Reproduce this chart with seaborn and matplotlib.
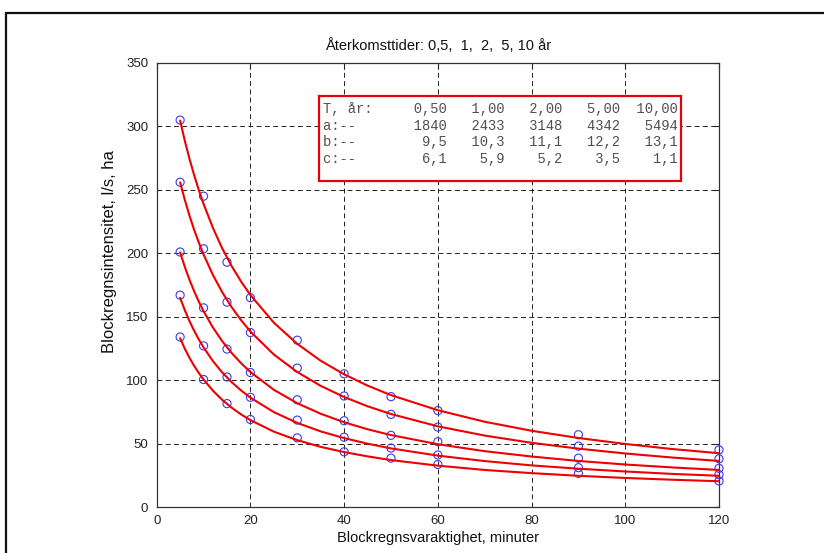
import numpy as np
import pandas as pd
import matplotlib
matplotlib.use("Agg")
import matplotlib.pyplot as plt
import seaborn as sns
from matplotlib.patches import Rectangle

# ---------------- data ----------------
return_periods = [0.5, 1, 2, 5, 10]
param_a = [1840, 2433, 3148, 4342, 5494]
param_b = [9.5, 10.3, 11.1, 12.2, 13.1]
param_c = [6.1, 5.9, 5.2, 3.5, 1.1]

# fitted curves
t_curve = [5, 6, 7, 8, 9, 10, 12, 14, 16, 18, 20, 25, 30, 35, 40, 45, 50, 60, 70, 80, 90, 100, 110, 120]
curve_T10 = [304.6, 288.7, 274.4, 261.5, 249.7, 238.9, 220.0, 203.8, 189.9, 177.8, 167.1, 145.3, 128.6,
             115.3, 104.6, 95.7, 88.2, 76.3, 67.2, 60.1, 54.4, 49.7, 45.7, 42.4]
curve_T5 = [255.9, 242.1, 229.6, 218.4, 208.3, 199.1, 182.9, 169.2, 157.5, 147.3, 138.3, 120.2, 106.4,
            95.5, 86.7, 79.4, 73.3, 63.6, 56.3, 50.6, 46.0, 42.2, 39.0, 36.3]
curve_T2 = [200.7, 189.3, 179.1, 170.0, 161.8, 154.4, 141.5, 130.6, 121.4, 113.4, 106.4, 92.4, 81.8,
            73.5, 66.8, 61.3, 56.7, 49.5, 44.0, 39.8, 36.3, 33.5, 31.2, 29.2]
curve_T1 = [164.9, 155.2, 146.5, 138.9, 132.0, 125.8, 115.0, 106.0, 98.4, 91.9, 86.2, 74.8, 66.3,
            59.6, 54.3, 49.9, 46.2, 40.5, 36.2, 32.8, 30.2, 28.0, 26.1, 24.6]
curve_T05 = [133.0, 124.8, 117.6, 111.2, 105.6, 100.5, 91.7, 84.4, 78.3, 73.0, 68.5, 59.4, 52.7,
             47.4, 43.3, 39.9, 37.0, 32.6, 29.2, 26.7, 24.6, 22.9, 21.5, 20.3]

# observed points
t_obs = [5, 10, 15, 20, 30, 40, 50, 60, 90, 120]
obs_T10 = [305, 245, 193, 165, 131.5, 105, 87, 76, 57, 45]
obs_T5 = [256, 203.5, 161.5, 137.5, 109.5, 87.5, 73, 63, 48, 38]
obs_T2 = [201, 157, 124.5, 106, 84.5, 68, 56.5, 51.5, 38.5, 30.5]
obs_T1 = [167, 127, 102.5, 86.5, 68.5, 55, 46.5, 41, 31, 25.5]
obs_T05 = [134, 100.5, 81.5, 69, 54.5, 43.5, 38.5, 33.5, 26.5, 20.5]

x_ticks = [0, 20, 40, 60, 80, 100, 120]
y_ticks = [0, 50, 100, 150, 200, 250, 300, 350]

title_text = "Återkomsttider: 0,5,  1,  2,  5, 10 år"
xlabel_text = "Blockregnsvaraktighet, minuter"
ylabel_text = "Blockregnsintensitet, l/s, ha"

# ---------------- build tables ----------------
curves = [curve_T05, curve_T1, curve_T2, curve_T5, curve_T10]
obs = [obs_T05, obs_T1, obs_T2, obs_T5, obs_T10]
df_curve = pd.concat([pd.DataFrame({"t": t_curve, "i": c, "T": str(T)})
                      for T, c in zip(return_periods, curves)], ignore_index=True)
df_obs = pd.concat([pd.DataFrame({"t": t_obs, "i": o, "T": str(T)})
                    for T, o in zip(return_periods, obs)], ignore_index=True)

# ---------------- style ----------------
sns.set_style("white")
plt.rcParams['font.family'] = ['Liberation Sans', 'DejaVu Sans']

fig = plt.figure(figsize=(8.24, 5.53), dpi=100)
fig.patch.set_facecolor("white")
ax = fig.add_axes([156.7 / 824, 1 - 507 / 553, 562.3 / 824, 444 / 553])
ax.set_facecolor("white")

marker_col = "#3a3aee"
sns.scatterplot(data=df_obs, x="t", y="i", legend=False, marker="o", s=34,
                facecolors="none", edgecolors=marker_col, linewidth=0.8, ax=ax, zorder=3)
for coll in ax.collections:
    coll.set_facecolor("none")
    coll.set_edgecolor(marker_col)
    coll.set_clip_on(False)
sns.lineplot(data=df_curve, x="t", y="i", hue="T", palette=["#ee0000"] * 5, legend=False,
             estimator=None, sort=False, linewidth=1.5, ax=ax, zorder=4)

ax.set_xlim(0, 120)
ax.set_ylim(0, 350)
ax.set_xticks(x_ticks)
ax.set_yticks(y_ticks)
ax.set_xticklabels([str(v) for v in x_ticks])
ax.set_yticklabels([str(v) for v in y_ticks])
ax.tick_params(direction="in", length=4, width=0.8, top=True, right=True,
               labelsize=9.5, colors="#222222", pad=6)
ax.grid(True, color="#222222", linestyle=(0, (5, 3.5)), linewidth=0.7)
for sp in ax.spines.values():
    sp.set_color("#333333")
    sp.set_linewidth(0.9)

ax.set_title(title_text, fontsize=10.5, pad=9, color="#111111")
ax.set_xlabel(xlabel_text, fontsize=10.5, color="#111111")
ax.set_ylabel(ylabel_text, fontsize=12, color="#111111")
ax.xaxis.set_label_coords(0.5, -0.053)
ax.yaxis.set_label_coords(-0.071, 0.575)

# parameter table box
def fmt(v, d):
    return f"{v:.{d}f}".replace(".", ",")

rows = [
    "T, år:  " + "".join(f"{fmt(v, 2):>7}" for v in return_periods),
    "a:--    " + "".join(f"{v:>7d}" for v in param_a),
    "b:--    " + "".join(f"{fmt(v, 1):>7}" for v in param_b),
    "c:--    " + "".join(f"{fmt(v, 1):>7}" for v in param_c),
]
box = Rectangle((0.2886, 0.7336), 0.9319 - 0.2886, 0.9257 - 0.7336, transform=ax.transAxes,
                facecolor="white", edgecolor="#e8000b", linewidth=1.6, zorder=5)
ax.add_patch(box)
row_y = [0.8970, 0.8590, 0.8210, 0.7830]
for r, yy in zip(rows, row_y):
    ax.text(0.2952, yy, r, transform=ax.transAxes, ha="left", va="center",
            family=["Liberation Mono", "DejaVu Sans Mono"], fontsize=9.9, color="#505050", zorder=6)

# outer frame of figure (left & top edges visible)
frame = Rectangle((6 / 824, -0.1), 1.2, (1 - 13 / 553) + 0.1, transform=fig.transFigure,
                  facecolor="none", edgecolor="#111111", linewidth=1.6)
fig.patches.append(frame)

fig.savefig("out.png", dpi=100, facecolor="white")
